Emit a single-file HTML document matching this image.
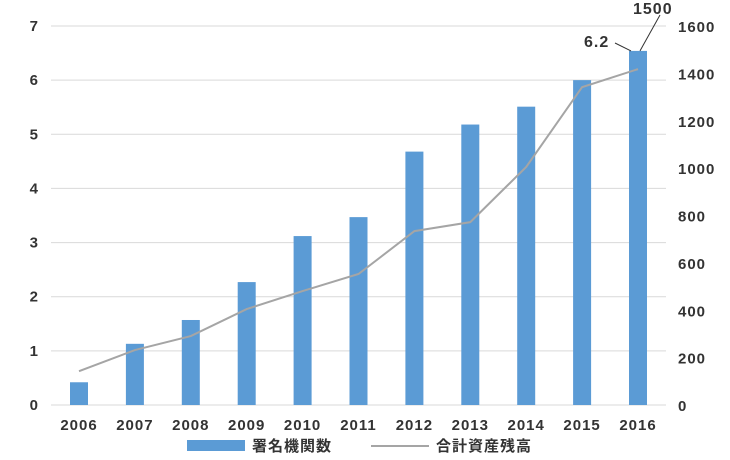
<!DOCTYPE html>
<html><head><meta charset="utf-8"><style>
body{margin:0;background:#fff;}
text{font-family:"Liberation Sans","Noto Sans CJK JP",sans-serif;font-weight:bold;fill:#333;letter-spacing:1px;}
</style></head><body>
<svg id="c" width="730" height="455" xmlns="http://www.w3.org/2000/svg"></svg>
<script>
const categories=["2006","2007","2008","2009","2010","2011","2012","2013","2014","2015","2016"];
const barValues=[0.42,1.13,1.57,2.27,3.12,3.47,4.68,5.18,5.51,6.0,6.54];
const lineValues=[143,232,291,405,481,553,734,772,1005,1342,1418];
const leftTicks=[0,1,2,3,4,5,6,7];
const rightTicks=[0,200,400,600,800,1000,1200,1400,1600];
const NS="http://www.w3.org/2000/svg";
const svg=document.getElementById('c');
const y0=405,yTop=26,xStart=79,dx=55.9;
const yL=v=>y0-(y0-yTop)*v/7;
const yR=v=>y0-(y0-yTop)*v/1600;
const xC=i=>xStart+i*dx;
function mk(t,a,txt){const e=document.createElementNS(NS,t);for(const k in a)e.setAttribute(k,a[k]);if(txt!==undefined)e.textContent=txt;svg.appendChild(e);return e;}
leftTicks.forEach(v=>{
 const g=mk('line',{x1:51,x2:666,y1:yL(v),y2:yL(v),stroke:'#d9d9d9','stroke-width':1});
 
 
 const t=mk('text',{x:39,y:yL(v)+5,'text-anchor':'end','font-size':15},v);
 
 
});
rightTicks.forEach(v=>{
 const t=mk('text',{x:678,y:yR(v)+6,'text-anchor':'start','font-size':15},v);
 
 
});
categories.forEach((c,i)=>{
 const b=mk('rect',{x:xC(i)-9,y:yL(barValues[i]),width:18,height:y0-yL(barValues[i]),fill:'#5b9bd5'});
 
 
 const t=mk('text',{x:xC(i),y:430,'text-anchor':'middle','font-size':15},c);
 
 
});
const pl=mk('polyline',{points:lineValues.map((v,i)=>xC(i)+','+yR(v)).join(' '),fill:'none',stroke:'#a5a5a5','stroke-width':2});


const n=categories.length-1;
const a1=mk('text',{x:584,y:47,'font-size':16},'6.2');


const l1=mk('line',{x1:615,y1:43,x2:631,y2:yL(barValues[n]),stroke:'#333','stroke-width':1});


const a2=mk('text',{x:633,y:14,'font-size':16},'1500');


const l2=mk('line',{x1:660,y1:15,x2:640,y2:yL(barValues[n]),stroke:'#333','stroke-width':1});


const lb=mk('rect',{x:187,y:440,width:58,height:11,fill:'#5b9bd5'});


const lt=mk('text',{x:252,y:451,'font-size':15},'署名機関数');


const ll=mk('line',{x1:371,x2:429,y1:446,y2:446,stroke:'#a5a5a5','stroke-width':2});


const lt2=mk('text',{x:436,y:451,'font-size':15},'合計資産残高');


</script>
</body></html>
